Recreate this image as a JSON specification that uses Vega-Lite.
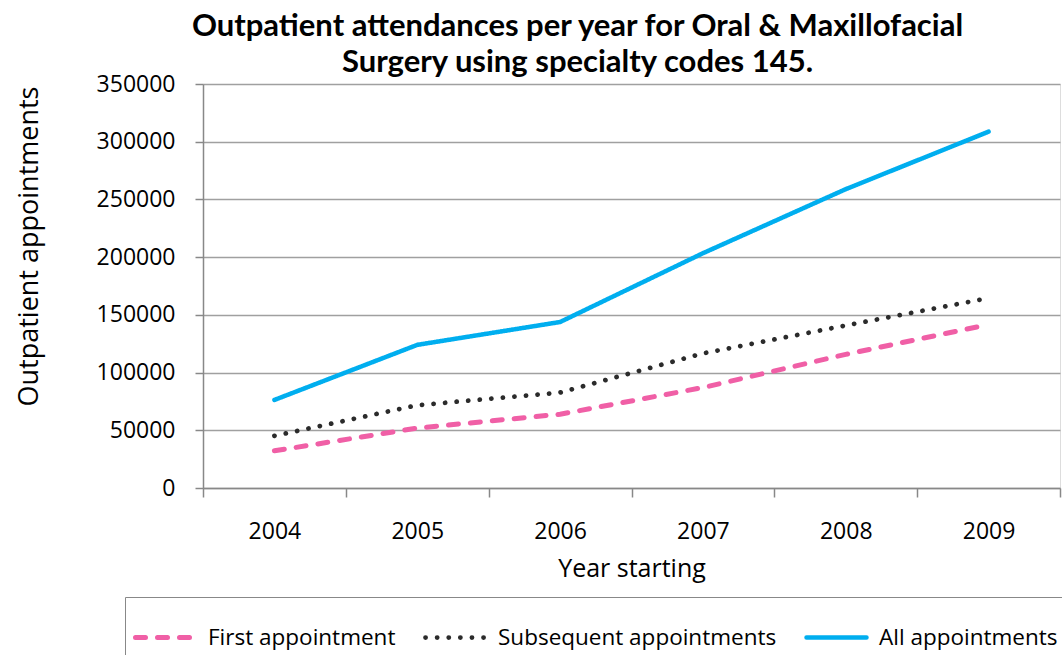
{
  "$schema": "https://vega.github.io/schema/vega-lite/v6.json",
  "width": 857,
  "height": 404,
  "autosize": {"type": "none"},
  "padding": {"left": 203, "top": 84, "right": 2, "bottom": 167},
  "background": "white",
  "title": {
    "text": ["Outpatient attendances per year for Oral & Maxillofacial", "Surgery using specialty codes 145."],
    "font": "Lato",
    "fontSize": 31,
    "fontWeight": "bold",
    "color": "#000000",
    "lineHeight": 36,
    "anchor": "middle",
    "dx": -54,
    "dy": 16,
    "offset": 10
  },
  "data": {
    "values": [
      {"year": "2004", "series": "First appointment", "value": 32200},
      {"year": "2005", "series": "First appointment", "value": 51900},
      {"year": "2006", "series": "First appointment", "value": 63900},
      {"year": "2007", "series": "First appointment", "value": 87000},
      {"year": "2008", "series": "First appointment", "value": 115800},
      {"year": "2009", "series": "First appointment", "value": 141600},
      {"year": "2004", "series": "Subsequent appointments", "value": 45200},
      {"year": "2005", "series": "Subsequent appointments", "value": 71700},
      {"year": "2006", "series": "Subsequent appointments", "value": 82700},
      {"year": "2007", "series": "Subsequent appointments", "value": 116600},
      {"year": "2008", "series": "Subsequent appointments", "value": 140800},
      {"year": "2009", "series": "Subsequent appointments", "value": 164500},
      {"year": "2004", "series": "All appointments", "value": 76300},
      {"year": "2005", "series": "All appointments", "value": 124000},
      {"year": "2006", "series": "All appointments", "value": 143800},
      {"year": "2007", "series": "All appointments", "value": 203400},
      {"year": "2008", "series": "All appointments", "value": 258900},
      {"year": "2009", "series": "All appointments", "value": 308700}
    ]
  },
  "mark": {"type": "line", "strokeCap": "round", "strokeJoin": "round"},
  "encoding": {
    "x": {
      "field": "year",
      "type": "ordinal",
      "bandPosition": 0.5,
      "scale": {"type": "band", "paddingInner": 0, "paddingOuter": 0},
      "axis": {
        "title": "Year starting",
        "labelAngle": 0,
        "tickBand": "extent",
        "labelFont": "Open Sans",
        "labelFontSize": 23,
        "labelColor": "#000000",
        "labelPadding": 23,
        "titleFont": "Open Sans",
        "titleFontSize": 25,
        "titleFontWeight": "normal",
        "titleColor": "#000000",
        "titlePadding": 13,
        "domainColor": "#888888",
        "domainWidth": 1.5,
        "tickColor": "#888888",
        "tickWidth": 1.5,
        "tickSize": 9,
        "grid": false
      }
    },
    "y": {
      "field": "value",
      "type": "quantitative",
      "scale": {"domain": [0, 350000], "nice": false},
      "axis": {
        "title": "Outpatient  appointments",
        "titleY": 162,
        "values": [0, 50000, 100000, 150000, 200000, 250000, 300000, 350000],
        "format": "d",
        "labelFont": "Open Sans",
        "labelFontSize": 23,
        "labelColor": "#000000",
        "labelPadding": 20,
        "titleFont": "Open Sans",
        "titleFontSize": 27,
        "titleFontWeight": "normal",
        "titleColor": "#000000",
        "titlePadding": 53,
        "domainColor": "#888888",
        "domainWidth": 1.5,
        "tickColor": "#888888",
        "tickWidth": 1.5,
        "tickSize": 8,
        "grid": true,
        "gridColor": "#a0a0a0",
        "gridWidth": 1.5
      }
    },
    "color": {
      "field": "series",
      "type": "nominal",
      "scale": {
        "domain": ["First appointment", "Subsequent appointments", "All appointments"],
        "range": ["#F05FA6", "#2b2b2b", "#00AEEF"]
      },
      "legend": {
        "title": null,
        "orient": "none",
        "legendX": -78,
        "legendY": 513,
        "direction": "horizontal",
        "strokeColor": "#888888",
        "padding": 8,
        "symbolType": "stroke",
        "symbolSize": 3600,
        "symbolStrokeWidth": 5,
        "labelFont": "Open Sans",
        "labelFontSize": 22.5,
        "labelLimit": 500,
        "labelColor": "#000000",
        "labelOffset": 10,
        "columnPadding": 20,
        "encode": {
          "symbols": {"update": {"strokeCap": {"value": "round"}}}
        }
      }
    },
    "strokeDash": {
      "field": "series",
      "type": "nominal",
      "scale": {
        "domain": ["First appointment", "Subsequent appointments", "All appointments"],
        "range": [[10, 12], [0.1, 11.5], [1, 0]]
      }
    },
    "strokeWidth": {
      "field": "series",
      "type": "nominal",
      "scale": {
        "domain": ["First appointment", "Subsequent appointments", "All appointments"],
        "range": [5, 4.5, 5]
      },
      "legend": null
    }
  }
}
